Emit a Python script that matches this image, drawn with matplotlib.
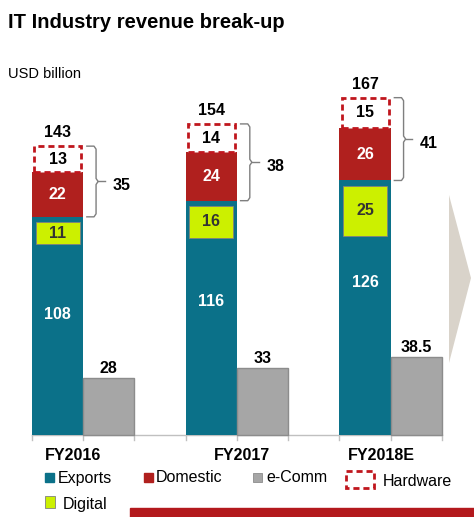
import matplotlib.pyplot as plt
from matplotlib.patches import Rectangle, Polygon
import numpy as np

plt.rcParams['font.family'] = ['Liberation Sans', 'DejaVu Sans']

# data (USD billion)
years = ['FY2016', 'FY2017', 'FY2018E']
exports = [108, 116, 126]
digital = [11, 16, 25]
domestic = [22, 24, 26]
hardware = [13, 14, 15]
ecomm = [28, 33, 38.5]
ecomm_labels = ['28', '33', '38.5']
totals = [143, 154, 167]
bracket_totals = [35, 38, 41]

teal = '#0b7189'
red = '#b0201e'
dash_red = '#c0161d'
grey = '#a6a6a6'
lime = '#ccf000'

W, H = 474, 517
fig = plt.figure(figsize=(W / 100, H / 100), dpi=100)

# pixel axes for title, legend and decorations
deco = fig.add_axes([0, 0, 1, 1])
deco.set_xlim(0, W)
deco.set_ylim(H, 0)
deco.axis('off')

# data axes: x in slot units, y in USD billion
base_px = 435
slot_px = 51.25
x0_px = 32
scale = 2.02  # px per USD bn
ax = fig.add_axes([0, 0, 1, 1])
ax.set_xlim(-x0_px / slot_px, (W - x0_px) / slot_px)
ax.set_ylim(-(H - base_px) / scale, base_px / scale)
ax.axis('off')
ax.patch.set_alpha(0)

pos = np.arange(len(years)) * 3
exports = np.array(exports)
domestic = np.array(domestic)
hardware = np.array(hardware)
digital = np.array(digital)

# stacked bars
ax.bar(pos, exports, width=1, align='edge', color=teal, zorder=2)
ax.bar(pos, domestic, width=1, align='edge', bottom=exports, color=red, zorder=2)
ax.bar(pos + 0.04, hardware, width=0.92, align='edge', bottom=exports + domestic,
       facecolor='white', edgecolor=dash_red, linewidth=2, linestyle=(0, (2.2, 1.4)), zorder=3)
gap = 2.5
ax.bar(pos + 0.07, digital, width=0.86, align='edge', bottom=exports - digital - gap,
       color=lime, edgecolor='#808080', linewidth=0.6, zorder=3)
ax.bar(pos + 1, ecomm, width=1, align='edge', color=grey, edgecolor='#8c8c8c',
       linewidth=1, zorder=2)

# baseline with ticks
ax.plot([0, 8], [0, 0], color='#c0c0c0', lw=1, zorder=1)
for t in range(9):
    ax.plot([t, t], [0, -2.5], color='#c0c0c0', lw=1, zorder=1)

bold = dict(fontsize=11.5, fontweight='bold', ha='center', va='center')
for i, p in enumerate(pos):
    c = p + 0.5
    ax.text(c, (exports[i] + digital[i]) / 2, str(exports[i]), color='white', **bold, zorder=4)
    ax.text(c, exports[i] - gap - digital[i] / 2, str(digital[i]), color='#333333', **bold, zorder=4)
    ax.text(c, exports[i] + domestic[i] / 2, str(domestic[i]), color='white', **bold, zorder=4)
    ax.text(c, exports[i] + domestic[i] + hardware[i] / 2, str(hardware[i]), color='black', **bold, zorder=4)
    ax.text(c, totals[i] + 3, str(totals[i]), color='black', fontsize=11.5, fontweight='bold',
            ha='center', va='bottom')
    ax.text(p + 1.5, ecomm[i] + 1, ecomm_labels[i], color='black', fontsize=11.5, fontweight='bold',
            ha='center', va='bottom')

    # bracket around domestic + hardware
    lo = exports[i]
    hi = exports[i] + domestic[i] + hardware[i]
    mid = (lo + hi) / 2
    xa, xb, xc = p + 1.07, p + 1.25, p + 1.42
    r = 1.5
    ax.plot([xa, xb - 0.04, xb, xb, xb + 0.04, xb, xb, xb - 0.04, xa],
            [hi, hi, hi - r, mid + r, mid, mid - r, lo + r, lo, lo],
            color='#7f7f7f', lw=1)
    ax.plot([xb + 0.04, xc], [mid, mid], color='#7f7f7f', lw=1)
    ax.text(p + 1.57, mid - 2, str(bracket_totals[i]), fontsize=11.5, fontweight='bold',
            ha='left', va='center')

# category labels
for x, lab in zip([73, 242, 381], years):
    deco.text(x, 455, lab, fontsize=11.5, fontweight='bold', ha='center', va='center')

# title
deco.text(8, 23, 'IT Industry revenue break-up', fontsize=14.5, fontweight='bold',
          ha='left', va='center')
deco.text(8, 74, 'USD billion', fontsize=10.5, ha='left', va='center')

# legend
deco.add_patch(Rectangle((45, 473), 9, 9, color=teal))
deco.text(58, 478, 'Exports', fontsize=11.5, ha='left', va='center')
deco.add_patch(Rectangle((144, 473), 9, 9, color=red))
deco.text(156, 478, 'Domestic', fontsize=11.5, ha='left', va='center')
deco.add_patch(Rectangle((253, 473), 9, 9, facecolor=grey, edgecolor='#8c8c8c', lw=0.6))
deco.text(266, 478, 'e-Comm', fontsize=11.5, ha='left', va='center')
deco.add_patch(Rectangle((346, 471), 28, 17, facecolor='white', edgecolor=dash_red,
                         lw=2, linestyle=(0, (2.2, 1.4))))
deco.text(383, 481, 'Hardware', fontsize=11.5, ha='left', va='center')
deco.add_patch(Rectangle((45, 496), 10, 12, facecolor=lime, edgecolor='#808080', lw=0.6))
deco.text(63, 505, 'Digital', fontsize=11.5, ha='left', va='center')

# grey chevron and red strip
deco.add_patch(Polygon([(449, 195), (471, 278), (449, 363)], closed=True,
                       facecolor='#d9d3ca', edgecolor='none'))
deco.add_patch(Rectangle((130, 508), W - 130, 10, color='#b3191d'))

fig.savefig('out.png', dpi=100)
